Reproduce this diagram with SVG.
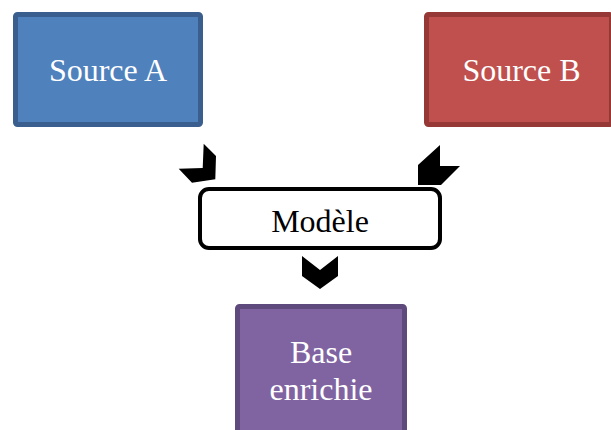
<svg xmlns="http://www.w3.org/2000/svg" width="611" height="430" viewBox="0 0 611 430">
  <style>
    .lbl { font-family: "Liberation Serif", "Times New Roman", serif; font-size: 32px; text-anchor: middle; }
    .light { fill: #ffffff; }
    .dark { fill: #000000; }
    .arrow { fill: #000000; }
  </style>
  <rect width="611" height="430" fill="#ffffff"/>

  <g id="source-a">
    <rect x="15.5" y="14.5" width="185" height="110" rx="2" fill="#4F81BD" stroke="#3A5F8E" stroke-width="5"/>
    <text class="lbl light" x="108" y="81">Source A</text>
  </g>

  <g id="source-b">
    <rect x="426.5" y="14.5" width="185" height="110" rx="2" fill="#C0504D" stroke="#953836" stroke-width="5"/>
    <text class="lbl light" x="521.5" y="81">Source B</text>
  </g>

  <g id="modele">
    <rect x="200" y="189" width="240" height="59" rx="9" fill="#ffffff" stroke="#000000" stroke-width="4"/>
    <text class="lbl dark" x="320" y="232">Modèle</text>
  </g>

  <g id="base-enrichie">
    <rect x="237.5" y="306.5" width="167" height="130" rx="2" fill="#8064A2" stroke="#5F4A7E" stroke-width="5"/>
    <text class="lbl light" x="321" y="363">Base</text>
    <text class="lbl light" x="321" y="400">enrichie</text>
  </g>

  <g id="connectors">
    <polygon class="arrow" points="203.7,143.7 216,156 215.3,179.3 192,182.7 178.7,168.7 202.7,168"/>
    <polygon class="arrow" points="418,185 418,165 440,145 440,166 460,166 441,185"/>
    <polygon class="arrow" points="302,256 320,270 338,256 338,276 320,289 302,276"/>
  </g>
</svg>
